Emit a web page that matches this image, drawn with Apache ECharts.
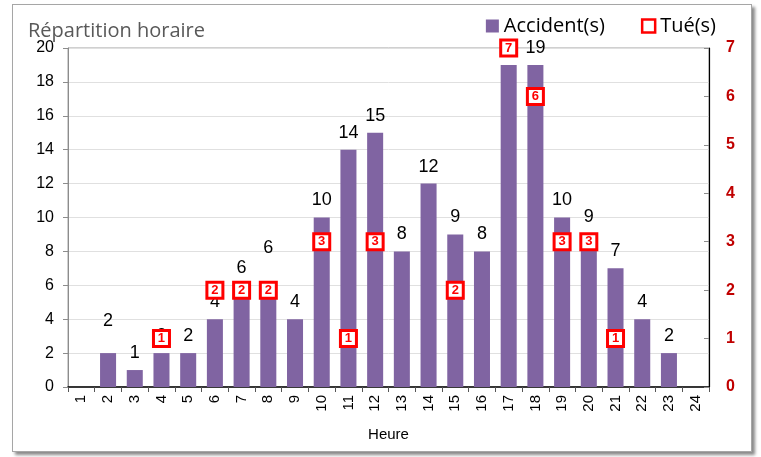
<!DOCTYPE html>
<html>
<head>
<meta charset="utf-8">
<script src="https://cdn.jsdelivr.net/npm/echarts@6/dist/echarts.min.js"></script>
<style>
html,body{margin:0;padding:0;background:#fff;width:761px;height:457px;overflow:hidden;}
#frame{position:absolute;left:12px;top:4px;width:738px;height:446px;border:1px solid #a6a6a6;box-shadow:3px 3px 3px #8a8a8a;background:#fff;}
#chart{position:absolute;left:0;top:0;width:761px;height:457px;}
</style>
</head>
<body>
<div id="frame"></div>
<div id="chart"></div>
<script>
var hours = ['1','2','3','4','5','6','7','8','9','10','11','12','13','14','15','16','17','18','19','20','21','22','23','24'];
var accidents = [0,2,1,2,2,4,6,6,4,10,14,15,8,12,9,8,19,19,10,9,7,4,2,0];
var tues = [null,null,null,1,null,2,2,2,null,3,1,3,null,null,2,null,7,6,3,3,1,null,null,null];
var leftTicks = [0,2,4,6,8,10,12,14,16,18,20];
var rightTicks = [0,1,2,3,4,5,6,7];

// small manual label lifts (Excel labels moved by hand)
var labelLift = {1: -15, 7: -20};

var chart = echarts.init(document.getElementById('chart'), null, {renderer:'canvas'});
var accData = accidents.map(function(v, i){
  if (v === 0) return {value: v, label: {show: false}};
  var item = {value: v};
  if (labelLift[i] !== undefined) item.label = {offset: [0, labelLift[i]]};
  return item;
});
var tueData = tues.map(function(v){ return v === null ? '-' : v; });

chart.setOption({
  animation: false,
  backgroundColor: 'transparent',
  title: {
    text: 'Répartition horaire',
    left: 23, top: 16,
    textStyle: {fontFamily: 'Open Sans', fontSize: 20, fontWeight: 'normal', color: '#595959'}
  },
  legend: {
    right: 40, top: 11,
    itemWidth: 13, itemHeight: 13, itemGap: 36,
    textStyle: {fontFamily: 'Open Sans', fontSize: 20, color: '#000'},
    data: [
      {name: 'Accident(s)', icon: 'rect'},
      {name: 'Tué(s)', icon: 'rect', itemStyle: {color: '#fff', borderColor: '#ff0000', borderWidth: 2.5}}
    ]
  },
  grid: {left: 68, right: 52, top: 48, bottom: 70, show: true, borderColor: '#a0a0a0', borderWidth: 1},
  xAxis: {
    type: 'category',
    data: hours,
    name: 'Heure',
    nameLocation: 'middle',
    nameGap: 40,
    nameTextStyle: {fontFamily: 'Liberation Sans', fontSize: 15, color: '#000'},
    axisLine: {lineStyle: {color: '#000', width: 1.5}},
    axisTick: {show: true, length: 5, lineStyle: {color: '#555'}},
    axisLabel: {rotate: 90, margin: 8, fontFamily: 'Liberation Sans', fontSize: 15, color: '#000'}
  },
  yAxis: [{
    type: 'value', min: 0, max: 20, interval: 2,
    axisLine: {show: true, lineStyle: {color: '#8c8c8c'}},
    axisTick: {show: true, length: 5, lineStyle: {color: '#8c8c8c'}},
    axisLabel: {margin: 14, fontFamily: 'Liberation Sans', fontSize: 16, color: '#000'},
    splitLine: {show: true, lineStyle: {color: '#e0e0e0'}}
  }, {
    type: 'value', min: 0, max: 7, interval: 1, position: 'right',
    axisLine: {show: true, lineStyle: {color: '#000', width: 1.2}},
    axisTick: {show: true, inside: true, length: 5, lineStyle: {color: '#8c8c8c'}},
    axisLabel: {margin: 17, fontFamily: 'Liberation Sans', fontSize: 16, fontWeight: 'bold', color: '#c00000'},
    splitLine: {show: false}
  }],
  series: [{
    name: 'Accident(s)',
    type: 'bar',
    data: accData,
    barWidth: '60%',
    itemStyle: {color: '#8064a2'},
    label: {show: true, position: 'top', distance: 8, fontFamily: 'Liberation Sans', fontSize: 18, color: '#000'},
    z: 2
  }, {
    name: 'Tué(s)',
    type: 'line',
    yAxisIndex: 1,
    data: tueData,
    connectNulls: false,
    lineStyle: {opacity: 0, width: 0},
    symbol: 'rect',
    symbolSize: 16,
    showAllSymbol: true,
    itemStyle: {color: '#fff', borderColor: '#ff0000', borderWidth: 3},
    label: {show: true, position: 'inside', fontFamily: 'Liberation Sans', fontSize: 13, fontWeight: 'bold', color: '#ff0000'},
    z: 5
  }]
});
</script>
</body>
</html>
